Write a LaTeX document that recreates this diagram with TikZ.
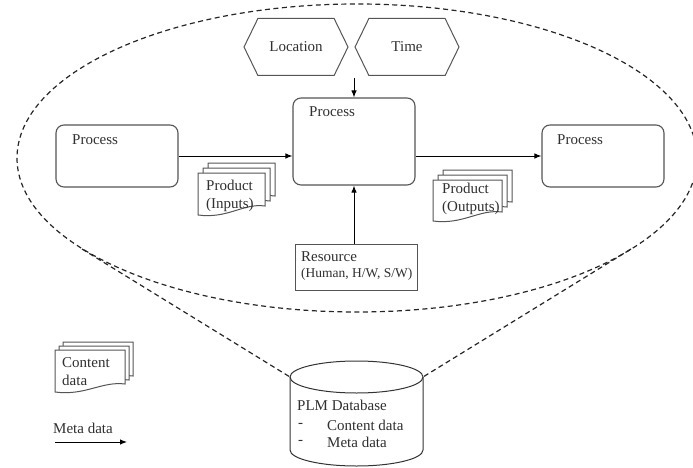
\documentclass[tikz,border=0pt]{standalone}
\usepackage{fontspec}
\setmainfont{Liberation Serif}
\usetikzlibrary{arrows.meta,shapes.symbols}

\definecolor{txtgray}{HTML}{303030}
\definecolor{boxgray}{HTML}{555555}

\tikzset{
  scopeline/.style={draw=black!85, line width=1.2pt, dash pattern=on 5pt off 3.5pt},
  procbox/.style={draw=boxgray, line width=1.1pt, rounded corners=8pt, minimum width=122pt, minimum height=62pt},
  hexbox/.style={draw=boxgray, line width=1pt, signal, signal to=west and east, signal pointer angle=128,
    minimum width=104pt, minimum height=57pt, inner sep=0pt},
  resbox/.style={draw=boxgray, line width=1pt, minimum width=122pt, minimum height=46pt},
  docsheet/.style={draw=boxgray, line width=1pt, fill=white},
  flowline/.style={draw=black, line width=1pt},
  dbline/.style={draw=black!80, line width=1pt}
}

\begin{document}
\begin{tikzpicture}[x=1pt, y=-1pt, >={Latex[length=7pt, width=5.5pt]},
  every node/.style={font=\fontsize{15}{18}\selectfont, text=txtgray}]
\useasboundingbox (0,0) rectangle (693,468);

% Scope of the process view, tied to the database
\draw[scopeline] (357,158) ellipse (340 and 154);
\coordinate (tanl) at (82,249);
\coordinate (tanr) at (631,249);
\coordinate (dbl) at (290,377);
\coordinate (dbr) at (423,377);
\draw[scopeline] (tanl) -- (dbl);
\draw[scopeline] (tanr) -- (dbr);

% PLM database
\draw[dbline, fill=white] (dbl) -- (290,450) arc (180:0:66.5 and 16) -- (dbr);
\draw[dbline] (356.5,377) ellipse (66.5 and 16);
\node[anchor=west, inner sep=0pt] (db) at (297,405) {PLM Database};
\node[anchor=west, inner sep=0pt] (dbdasha) at (298,425) {-};
\node[anchor=west, inner sep=0pt] (dbcont) at (327,425) {Content data};
\node[anchor=west, inner sep=0pt] (dbdashb) at (298,442) {-};
\node[anchor=west, inner sep=0pt] (dbmeta) at (327,442) {Meta data};

% Location and time
\node[hexbox] (loc) at (296,47) {Location};
\node[hexbox] (time) at (407,47) {Time};
\coordinate (hexjoin) at (354,78);

% Processes
\node[procbox] (p1) at (117,156) {};
\node[anchor=west, inner sep=0pt] (p1t) at (72,140) {Process};
\node[procbox, minimum height=87pt] (p2) at (354,141.5) {};
\node[anchor=west, inner sep=0pt] (p2t) at (309,112) {Process};
\node[procbox] (p3) at (603,156) {};
\node[anchor=west, inner sep=0pt] (p3t) at (557,140) {Process};

% Resource
\node[resbox] (res) at (356,267) {};
\node[anchor=west, inner sep=0pt] (rest) at (301,257) {Resource};
\node[anchor=west, inner sep=0pt, font=\fontsize{13.5}{16}\selectfont] (resdet) at (301,274) {(Human, H/W, S/W)};

% Flows
\draw[->, flowline] (hexjoin) -- (p2.north);
\draw[->, flowline] (p1.east) -- (p1.east -| p2.west);
\draw[->, flowline] (p3.west -| p2.east) -- (p3.west);
\draw[->, flowline] (res.north -| p2.south) -- (p2.south);

% Products (documents)
\begin{scope}[shift={(198,173)}]
  \foreach \d in {10,5,0}
    \draw[docsheet] (\d,-\d) -- (\d+67,-\d) -- (\d+67,33-\d)
      .. controls (\d+45,30-\d) and (\d+30,46-\d) .. (\d,42-\d) -- cycle;
\end{scope}
\node[anchor=west, align=left, inner sep=0pt] (prodin) at (206,196) {Product\\(Inputs)};

\begin{scope}[shift={(433,180)}]
  \foreach \d in {10,5,0}
    \draw[docsheet] (\d,-\d) -- (\d+69,-\d) -- (\d+69,32-\d)
      .. controls (\d+46,29-\d) and (\d+30,45-\d) .. (\d,41-\d) -- cycle;
\end{scope}
\node[anchor=west, align=left, inner sep=0pt] (prodout) at (442,199) {Product\\(Outputs)};

% Legend
\begin{scope}[shift={(55,350)}]
  \foreach \d in {8,4,0}
    \draw[docsheet] (\d,-\d) -- (\d+70,-\d) -- (\d+70,34-\d)
      .. controls (\d+47,31-\d) and (\d+30,46-\d) .. (\d,42-\d) -- cycle;
\end{scope}
\node[anchor=west, align=left, inner sep=0pt] (contentdoc) at (62,372) {Content\\data};

\node[anchor=west, inner sep=0pt] (metalabel) at (53,428) {Meta data};
\coordinate (mstart) at (55,442);
\coordinate (mend) at (127,442);
\draw[->, flowline] (mstart) -- (mend);
\end{tikzpicture}
\end{document}
